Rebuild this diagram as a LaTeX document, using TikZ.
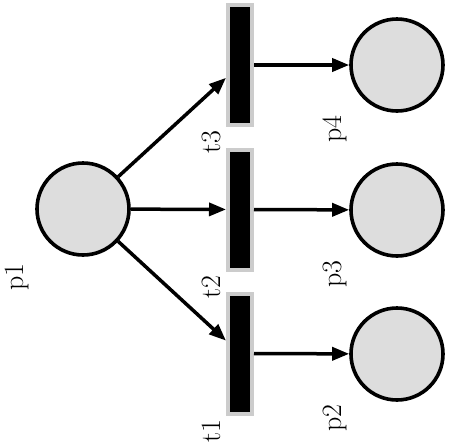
\documentclass[tikz,border=0pt]{standalone}
\usetikzlibrary{arrows.meta}
\definecolor{placefill}{RGB}{221,221,221}
\definecolor{transborder}{RGB}{204,204,204}
\begin{document}
\begin{tikzpicture}[x=1pt,y=-1pt,
  place/.style={circle,draw=black,line width=3.6pt,fill=placefill,minimum size=92pt,inner sep=0pt},
  transition/.style={rectangle,fill=black,draw=transborder,line width=4pt,minimum width=24pt,minimum height=120pt,inner sep=0pt},
  lab/.style={rotate=90,font=\fontsize{28}{30}\selectfont,inner sep=0pt},
  arc/.style={line width=3.5pt,-{Triangle[length=17pt,width=13pt]}}]
\useasboundingbox (0,0) rectangle (451,448);
\node[place] (p1) at (83,209) {};
\node[place] (p4) at (397,65) {};
\node[place] (p3) at (397,210) {};
\node[place] (p2) at (397,354) {};
\node[transition] (t3) at (240,65) {};
\node[transition] (t2) at (240,209.5) {};
\node[transition] (t1) at (240,353.5) {};
\node[lab] (lp1) at (17,277) {p1};
\node[lab] (lp4) at (335,129) {p4};
\node[lab] (lp3) at (335,274) {p3};
\node[lab] (lp2) at (335,418) {p2};
\node[lab] (lt3) at (211,142) {t3};
\node[lab] (lt2) at (211,287) {t2};
\node[lab] (lt1) at (211,431) {t1};
\draw[arc] (p1) -- (t3);
\draw[arc] (p1) -- (t2);
\draw[arc] (p1) -- (t1);
\draw[arc] (t3) -- (p4);
\draw[arc] (t2) -- (p3);
\draw[arc] (t1) -- (p2);
\end{tikzpicture}
\end{document}
